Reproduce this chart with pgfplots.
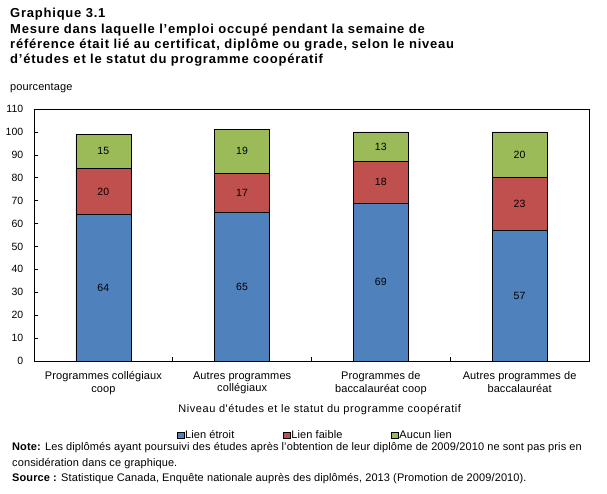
\documentclass[border=0pt]{standalone}
\usepackage{pgfplots}
\pgfplotsset{compat=1.18}
\usepackage{fontspec}
\setmainfont{Liberation Sans}[LetterSpace=1]
\newfontfamily\titlefont{Liberation Sans}[LetterSpace=6]
\newfontfamily\widefont{Liberation Sans}[LetterSpace=5]
\definecolor{cblue}{HTML}{4F81BD}
\definecolor{cred}{HTML}{C0504D}
\definecolor{cgreen}{HTML}{9BBB59}
\newcommand{\fs}{\fontsize{11}{12.5}\selectfont}
\newcommand{\fsn}{\fontsize{10.5}{12}\selectfont}
\begin{document}
\begin{tikzpicture}[x=1pt,y=1pt]
\path[use as bounding box] (0,0) rectangle (607,493);
\begin{axis}[
  at={(34pt,132pt)}, anchor=south west,
  scale only axis, width=555pt, height=252pt,
  ybar stacked, bar width=55pt,
  xmin=-0.5, xmax=3.5, ymin=0, ymax=110,
  ytick={0,10,...,110},
  xtick={0.5,1.5,2.5}, xticklabels={},
  extra x ticks={0,1,2,3},
  extra x tick labels={{Programmes collégiaux\\coop},{Autres programmes\\collégiaux},{Programmes de\\baccalauréat coop},{Autres programmes de\\baccalauréat}},
  extra x tick style={major tick length=0pt, tick label style={align=center, font=\fs, yshift=-7pt}},
  tick align=inside, xtick pos=left, ytick pos=left,
  major tick length=4pt,
  tick style={black, line width=0.6pt},
  axis line style={black, line width=0.6pt},
  /pgf/number format/assume math mode=true,
  yticklabel style={font=\fsn, inner sep=0pt, xshift=-10.5pt},
  legend image code/.code={\draw[#1, draw=black, line width=0.5pt] (0pt,-3.2pt) rectangle (6.5pt,3.2pt);},
  legend columns=3,
  legend style={at={(0.2577,-0.2956)}, anchor=west, draw=none, fill=none, font=\fs,
    inner sep=0pt, outer sep=0pt,
    /tikz/every even column/.append style={column sep=48pt},
    nodes={inner sep=1pt}},
]
\addplot[fill=cblue, draw=black, line width=0.6pt] coordinates {(0,64) (1,65) (2,69) (3,57)};
\addplot[fill=cred, draw=black, line width=0.6pt] coordinates {(0,20) (1,17) (2,18) (3,23)};
\addplot[fill=cgreen, draw=black, line width=0.6pt] coordinates {(0,15) (1,19) (2,13) (3,20)};
\legend{Lien étroit, Lien faible, Aucun lien}
\end{axis}
\begin{axis}[
  at={(34pt,132pt)}, anchor=south west,
  scale only axis, width=555pt, height=252pt,
  xmin=-0.5, xmax=3.5, ymin=0, ymax=110,
  hide axis,
]
\addplot[draw=none, mark=none, nodes near coords, point meta=explicit symbolic,
  every node near coord/.append style={anchor=center, font=\fsn, text=black}]
  table[meta=lab] {
x y lab
0 32 64
0 74 20
0 91.5 15
1 32.5 65
1 73.5 17
1 91.5 19
2 34.5 69
2 78 18
2 93.5 13
3 28.5 57
3 68.5 23
3 90 20
};
\end{axis}
\begin{scope}[every node/.style={anchor=base west, inner sep=0pt}]
\node[font=\titlefont\bfseries\fontsize{13}{15}\selectfont] at (10,475.3) {Graphique 3.1};
\node[font=\titlefont\bfseries\fontsize{13}{15}\selectfont] at (10,459.7) {Mesure dans laquelle l’emploi occupé pendant la semaine de};
\node[font=\titlefont\bfseries\fontsize{13}{15}\selectfont] at (10,444) {référence était lié au certificat, diplôme ou grade, selon le niveau};
\node[font=\titlefont\bfseries\fontsize{13}{15}\selectfont] at (10,429) {d’études et le statut du programme coopératif};
\node[font=\fs] at (10,402.3) {pourcentage};
\node[font=\fs] at (12,43) {\textbf{Note:} Les diplômés ayant poursuivi des études après l'obtention de leur diplôme de 2009/2010 ne sont pas pris en};
\node[font=\fs] at (12,27) {considération dans ce graphique.};
\node[font=\fs] at (12,11.3) {\textbf{Source :} Statistique Canada, Enquête nationale auprès des diplômés, 2013 (Promotion de 2009/2010).};
\end{scope}
\node[anchor=base, inner sep=0pt, font=\widefont\fs] at (319.7,81) {Niveau d'études et le statut du programme coopératif};
\end{tikzpicture}
\end{document}
